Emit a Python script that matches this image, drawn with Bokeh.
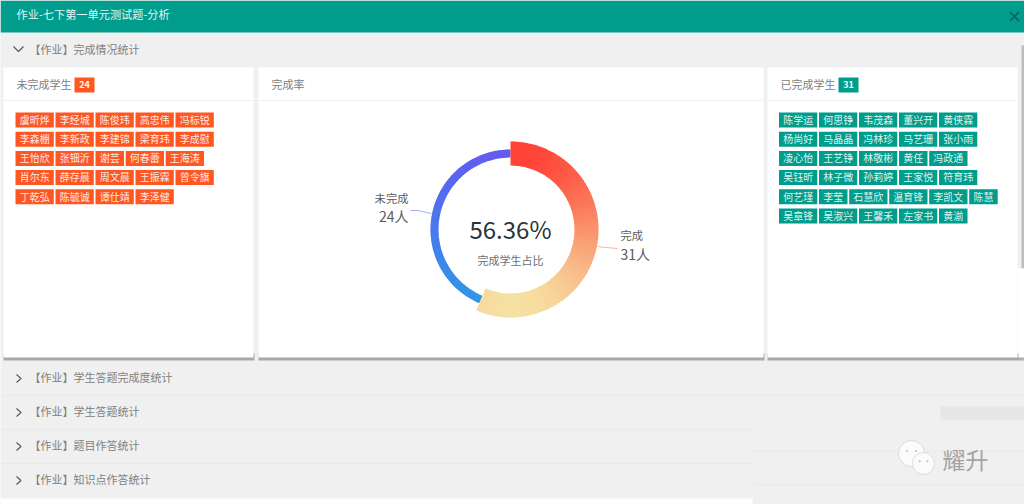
from bokeh.plotting import figure
from bokeh.embed import file_html
from bokeh.resources import INLINE
from bokeh.core.properties import value
import math

TITLE = "作业-七下第一单元测试题-分析"
SECTION_OPEN = "【作业】完成情况统计"
SECTIONS = ["【作业】学生答题完成度统计", "【作业】学生答题统计", "【作业】题目作答统计", "【作业】知识点作答统计"]
undone = [["虞昕烨", "李经城", "陈俊玮", "高忠伟", "冯标锐"],
          ["李森棚", "李新政", "李建锦", "梁育玮", "李成慰"],
          ["王怡欣", "张钿沂", "谢芸", "何春蕾", "王海涛"],
          ["肖尔东", "薛存晨", "周文晨", "王振霖", "曾令旗"],
          ["丁乾弘", "陈毓诚", "谭仕靖", "李泽健"]]
done = [["陈学运", "何思铮", "韦茂森", "董兴开", "黄侠霖"],
        ["杨尚好", "马晶晶", "冯林珍", "马艺珊", "张小雨"],
        ["凌心怡", "王艺铮", "林敬彬", "黄任", "冯政通"],
        ["吴钰昕", "林子微", "孙莉婷", "王家悦", "符育玮"],
        ["何艺瑾", "李莹", "石慧欣", "温育锋", "李凯文", "陈慧"],
        ["吴章锋", "吴淑兴", "王馨禾", "左家书", "黄湔"]]
done_count = 31
undone_count = 24
done_label = "完成"
undone_label = "未完成"
pct_text = "56.36%"
center_label = "完成学生占比"
card_titles = ["未完成学生", "完成率", "已完成学生"]

TEAL = "#009d8d"; ORANGE = "#ff5722"; BG = "#f0f0f0"
CJK = value("Noto Sans CJK SC")

p = figure(width=1024, height=504, x_range=(0, 1024), y_range=(504, 0),
           output_backend="svg", toolbar_location=None, min_border=0,
           background_fill_color=BG, border_fill_color=BG,
           styles={"position": "absolute", "left": "0px", "top": "0px"})
p.axis.visible = False
p.grid.visible = False
p.outline_line_color = None


def rect(x0, y0, x1, y1, color, alpha=1.0):
    p.quad(left=[x0], right=[x1], top=[y0], bottom=[y1], fill_color=color,
           fill_alpha=alpha, line_color=None)


def txt(x, y, s, size, color, align="left", style="normal"):
    p.text([x], [y - 1.3], text=[s], text_font=CJK, text_font_size=f"{size}px", text_color=color,
           text_align=align, text_baseline="middle", text_font_style=style)


def line(xs, ys, color, width=1.0):
    p.line(xs, ys, line_color=color, line_width=width)


# header
rect(0, 0, 1024, 32, TEAL)
txt(16, 15, TITLE, 11.2, "#e4f5f2")
line([1009.5, 1018.5], [11.5, 20.5], "#0b5f56", 1.4)
line([1018.5, 1009.5], [11.5, 20.5], "#0b5f56", 1.4)

# scrollbar strip and stray patches of the screenshot
rect(1021, 45, 1024, 268, "#bdbdbd")
rect(1017, 268, 1024, 357, "#ffffff")
rect(1017, 357, 1024, 360, "#b0b0b0")
rect(940, 406, 1024, 419, "#e8e6e6")

# open section header
line([13, 18, 23], [46, 51, 46], "#555555", 1.1)
txt(29, 50, SECTION_OPEN, 11, "#808080")

# cards
cards = [(3, 253), (258, 763), (767, 1017)]
for (x0, x1), title in zip(cards, card_titles):
    rect(x0, 353, x1 + 1, 360, "#a8a8a8")
    rect(x0, 67, x1, 357, "#ffffff")
    line([x0, x1], [100, 100], "#f1f1f1")
    txt(x0 + 13, 84.5, title, 11, "#808080")


def badge(x, n, color):
    rect(x, 77, x + 20, 92, color)
    txt(x + 10, 85.5, str(n), 9, "#ffffff", "center", "bold")


badge(74, undone_count, ORANGE)
badge(838, done_count, TEAL)


def tags(rows, x_start, color):
    for r, names in enumerate(rows):
        x = x_start
        y = 112 + r * 19.2
        for name in names:
            w = 38.3 if len(name) == 3 else 28.5
            rect(x, y, x + w, y + 15, color)
            txt(x + w / 2, y + 8, name, 10, "#fbe9e2" if color == ORANGE else "#dff3f0", "center")
            x += w + 1.7


tags(undone, 15, ORANGE)
tags(done, 778.5, TEAL)

# donut
CX, CY = 510, 229
total = done_count + undone_count
done_sweep = 2 * math.pi * done_count / total


def mix(a, b, t):
    t = max(0.0, min(1.0, t))
    return "#%02x%02x%02x" % tuple(round(a[i] + (b[i] - a[i]) * t) for i in range(3))


def ring(start, sweep, r0, r1, c_top, c_bot, n=90):
    """Clockwise from start (radians from 12 o'clock), vertical colour gradient."""
    for i in range(n):
        a0 = start + sweep * i / n
        a1 = start + sweep * (i + 1) / n
        t = (1 - math.cos((a0 + a1) / 2)) / 2
        col = mix(c_top, c_bot, t)
        lead = 0.012 if i > 0 else 0.0
        p.annular_wedge([CX], [CY], inner_radius=r0, outer_radius=r1,
                        start_angle=math.pi / 2 - a1, end_angle=math.pi / 2 - a0 + lead,
                        direction="anticlock", fill_color=col, line_color=None)


ring(done_sweep, 2 * math.pi - done_sweep, 72, 80, (0x62, 0x5c, 0xf0), (0x2e, 0x98, 0xe8))
ring(0, done_sweep, 64, 88, (0xff, 0x42, 0x36), (0xf6, 0xe0, 0xa2))

# leader lines and labels
p.line([410, 417, 431], [210, 210, 213], line_color="#9fb0f5", line_width=1)
p.line([597, 605, 617], [246, 247, 248], line_color="#f9b39a", line_width=1)
txt(408, 199, undone_label, 11.3, "#5c5c5c", "right")
txt(408, 217, f"{undone_count}人", 14, "#5c5c5c", "right")
txt(620, 236, done_label, 11.3, "#5c5c5c")
txt(620, 255, f"{done_count}人", 14, "#5c5c5c")
txt(510, 229.5, pct_text, 24, "#27343d", "center")
txt(510, 260.5, center_label, 11, "#6e6e6e", "center")

# collapsed sections
for y, s in zip([378, 412, 446, 480], SECTIONS):
    line([16, 20.5, 16], [y - 4, y, y + 4], "#555555", 1.1)
    txt(29, y, s, 11, "#808080")
line([0, 1024], [395, 395], "#e9e9e9")
line([0, 752], [429.5, 429.5], "#e9e9e9")
line([0, 752], [463, 463], "#e9e9e9")
line([752, 1024], [450.7, 450.7], "#e9e9e9")
line([752, 1024], [484, 484], "#e9e9e9")
rect(0, 498, 752, 504, "#ffffff")

# watermark
for cx, cy, r in [(911, 453, 13), (923, 463, 11)]:
    p.circle([cx], [cy], radius=r, fill_color="#fbfbfb", line_color="#c8c8c8", line_width=0.6)
    p.circle([cx - r * 0.35, cx + r * 0.35], [cy - r * 0.2, cy - r * 0.2], radius=1,
             fill_color="#bbbbbb", line_color=None)
txt(942, 459.5, "耀升", 23, "#a4a4a4")

open("out.html", "w").write(file_html(p, INLINE))
